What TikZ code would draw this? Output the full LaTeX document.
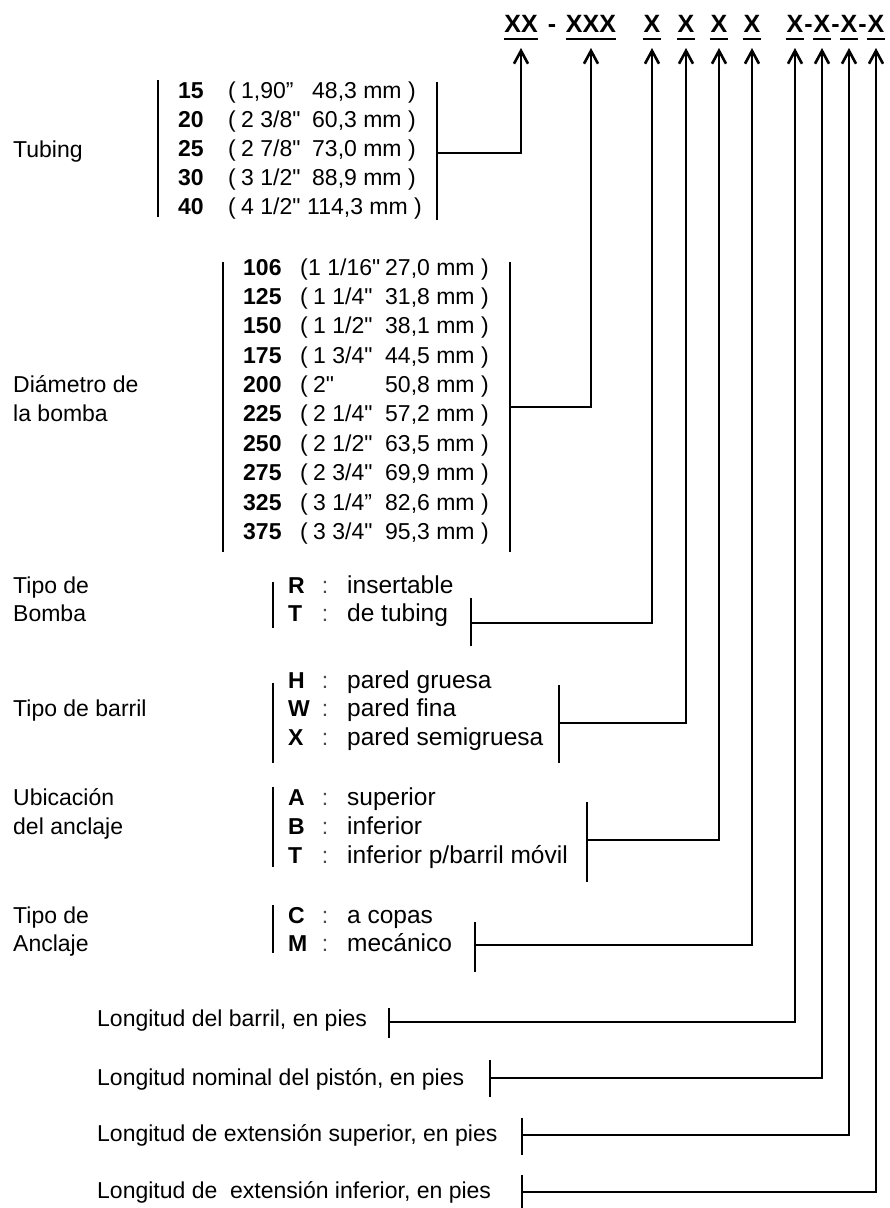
\documentclass[tikz,border=0pt]{standalone}
\usepackage{fontspec}
\setmainfont{Liberation Sans}
\newfontfamily\arialf{Liberation Sans}
\usetikzlibrary{arrows.meta}
\begin{document}
\begin{tikzpicture}[x=1pt,y=-1pt,
  txt/.style={inner sep=0pt, anchor=base west, font=\arialf\fontsize{23}{27}\selectfont},
  dsc/.style={inner sep=0pt, anchor=base west, font=\arialf\fontsize{24.5}{28}\selectfont},
  code/.style={inner sep=0pt, anchor=base west, font=\arialf\fontsize{23}{27}\selectfont\bfseries},
  colon/.style={inner sep=0pt, anchor=base, font=\arialf\fontsize{23}{27}\selectfont, text=black!70},
  hdr/.style={inner sep=0pt, anchor=base, font=\arialf\fontsize{25}{30}\selectfont\bfseries},
  bar/.style={line width=2.5pt},
  conn/.style={line width=2.6pt},
  arr/.style={conn, -{Straight Barb[length=13pt,width=14pt]}},
  ul/.style={line width=2.5pt}]
\useasboundingbox (0,0) rectangle (890,1208);

% ---------- header ----------
\node[hdr] (h1) at (521,32) {XX};
\node[hdr] (hd0) at (552,32) {-};
\node[hdr] (h2) at (591,32) {XXX};
\node[hdr] (h3) at (652,32) {X};
\node[hdr] (h4) at (686,32) {X};
\node[hdr] (h5) at (719,32) {X};
\node[hdr] (h6) at (752,32) {X};
\node[hdr] (h7) at (795,32) {X};
\node[hdr] (hd1) at (808.5,32) {-};
\node[hdr] (h8) at (822,32) {X};
\node[hdr] (hd2) at (835.5,32) {-};
\node[hdr] (h9) at (849,32) {X};
\node[hdr] (hd3) at (862.5,32) {-};
\node[hdr] (h10) at (876,32) {X};
\foreach \h in {h1,h2,h3,h4,h5,h6,h7,h8,h9,h10}{
  \draw[ul] ([yshift=-7pt]\h.base west) -- ([yshift=-7pt]\h.base east);
}
\coordinate (a1) at (521,48);
\coordinate (a2) at (591,48);
\coordinate (a3) at (652,48);
\coordinate (a4) at (686,48);
\coordinate (a5) at (719,48);
\coordinate (a6) at (752,48);
\coordinate (a7) at (795,48);
\coordinate (a8) at (822,48);
\coordinate (a9) at (849,48);
\coordinate (a10) at (876,48);

% ---------- Tubing ----------
\node[txt] (ltub) at (13,157) {Tubing};
\draw[bar] (158,80) -- (158,217);
\node[code] (t1c) at (178,98) {15};
\node[code] (t2c) at (178,127) {20};
\node[code] (t3c) at (178,156) {25};
\node[code] (t4c) at (178,185) {30};
\node[code] (t5c) at (178,214) {40};
\node[txt] (tp1) at (228,98) {(};
\node[txt] (tp2) at (228,127) {(};
\node[txt] (tp3) at (228,156) {(};
\node[txt] (tp4) at (228,185) {(};
\node[txt] (tp5) at (228,214) {(};
\node[txt] (t1i) at (241,98) {1,90”};
\node[txt] (t2i) at (241,127) {2 3/8"};
\node[txt] (t3i) at (241,156) {2 7/8"};
\node[txt] (t4i) at (241,185) {3 1/2"};
\node[txt] (t5i) at (241,214) {4 1/2"};
\node[txt] (t1m) at (312,98) {48,3 mm )};
\node[txt] (t2m) at (312,127) {60,3 mm )};
\node[txt] (t3m) at (312,156) {73,0 mm )};
\node[txt] (t4m) at (312,185) {88,9 mm )};
\node[txt] (t5m) at (307,214) {114,3 mm )};
\draw[bar] (437,82) -- (437,220);
\coordinate (r1) at (437,153);
\draw[arr] (r1) -| (a1);

% ---------- Diametro ----------
\node[txt] (ldia1) at (13,392) {Diámetro de};
\node[txt] (ldia2) at (13,421) {la bomba};
\draw[bar] (223,262) -- (223,552);
\node[code] (d1c) at (243,275) {106};
\node[code] (d2c) at (243,304) {125};
\node[code] (d3c) at (243,333) {150};
\node[code] (d4c) at (243,363) {175};
\node[code] (d5c) at (243,392) {200};
\node[code] (d6c) at (243,421) {225};
\node[code] (d7c) at (243,451) {250};
\node[code] (d8c) at (243,480) {275};
\node[code] (d9c) at (243,510) {325};
\node[code] (d10c) at (243,539) {375};
\node[txt] (d1p) at (300,275) {(};
\node[txt] (d2p) at (300,304) {(};
\node[txt] (d3p) at (300,333) {(};
\node[txt] (d4p) at (300,363) {(};
\node[txt] (d5p) at (300,392) {(};
\node[txt] (d6p) at (300,421) {(};
\node[txt] (d7p) at (300,451) {(};
\node[txt] (d8p) at (300,480) {(};
\node[txt] (d9p) at (300,510) {(};
\node[txt] (d10p) at (300,539) {(};
\node[txt] (d1i) at (308,275) {1 1/16"};
\node[txt] (d2i) at (313,304) {1 1/4"};
\node[txt] (d3i) at (313,333) {1 1/2"};
\node[txt] (d4i) at (313,363) {1 3/4"};
\node[txt] (d5i) at (313,392) {2"};
\node[txt] (d6i) at (313,421) {2 1/4"};
\node[txt] (d7i) at (313,451) {2 1/2"};
\node[txt] (d8i) at (313,480) {2 3/4"};
\node[txt] (d9i) at (313,510) {3 1/4”};
\node[txt] (d10i) at (313,539) {3 3/4"};
\node[txt] (d1m) at (385,275) {27,0 mm )};
\node[txt] (d2m) at (385,304) {31,8 mm )};
\node[txt] (d3m) at (385,333) {38,1 mm )};
\node[txt] (d4m) at (385,363) {44,5 mm )};
\node[txt] (d5m) at (385,392) {50,8 mm )};
\node[txt] (d6m) at (385,421) {57,2 mm )};
\node[txt] (d7m) at (385,451) {63,5 mm )};
\node[txt] (d8m) at (385,480) {69,9 mm )};
\node[txt] (d9m) at (385,510) {82,6 mm )};
\node[txt] (d10m) at (385,539) {95,3 mm )};
\draw[bar] (510,262) -- (510,552);
\coordinate (r2) at (510,407);
\draw[arr] (r2) -| (a2);

% ---------- Tipo de Bomba ----------
\node[txt] (lbo1) at (13,593) {Tipo de};
\node[txt] (lbo2) at (13,621) {Bomba};
\draw[bar] (273,582) -- (273,628);
\node[code] (bo1c) at (288,593) {R};
\node[colon] (bo1k) at (325,593) {:};
\node[dsc] (bo1d) at (347,593) {insertable};
\node[code] (bo2c) at (288,621) {T};
\node[colon] (bo2k) at (325,621) {:};
\node[dsc] (bo2d) at (347,621) {de tubing};
\draw[bar] (471,598) -- (471,646);
\coordinate (r3) at (471,623);
\draw[arr] (r3) -| (a3);

% ---------- Tipo de barril ----------
\node[txt] (lba) at (13,716) {Tipo de barril};
\draw[bar] (273,683) -- (273,763);
\node[code] (ba1c) at (288,688) {H};
\node[colon] (ba1k) at (325,688) {:};
\node[dsc] (ba1d) at (347,688) {pared gruesa};
\node[code] (ba2c) at (288,716) {W};
\node[colon] (ba2k) at (325,716) {:};
\node[dsc] (ba2d) at (347,716) {pared fina};
\node[code] (ba3c) at (288,745) {X};
\node[colon] (ba3k) at (325,745) {:};
\node[dsc] (ba3d) at (347,745) {pared semigruesa};
\draw[bar] (559,685) -- (559,763);
\coordinate (r4) at (559,723);
\draw[arr] (r4) -| (a4);

% ---------- Ubicacion del anclaje ----------
\node[txt] (lub1) at (13,805) {Ubicación};
\node[txt] (lub2) at (13,834) {del anclaje};
\draw[bar] (273,787) -- (273,867);
\node[code] (ub1c) at (288,805) {A};
\node[colon] (ub1k) at (325,805) {:};
\node[dsc] (ub1d) at (347,805) {superior};
\node[code] (ub2c) at (288,834) {B};
\node[colon] (ub2k) at (325,834) {:};
\node[dsc] (ub2d) at (347,834) {inferior};
\node[code] (ub3c) at (288,863) {T};
\node[colon] (ub3k) at (325,863) {:};
\node[dsc] (ub3d) at (347,863) {inferior p/barril móvil};
\draw[bar] (587,802) -- (587,882);
\coordinate (r5) at (587,840);
\draw[arr] (r5) -| (a5);

% ---------- Tipo de Anclaje ----------
\node[txt] (lan1) at (13,923) {Tipo de};
\node[txt] (lan2) at (13,951) {Anclaje};
\draw[bar] (273,905) -- (273,953);
\node[code] (an1c) at (288,923) {C};
\node[colon] (an1k) at (325,923) {:};
\node[dsc] (an1d) at (347,923) {a copas};
\node[code] (an2c) at (288,951) {M};
\node[colon] (an2k) at (325,951) {:};
\node[dsc] (an2d) at (347,951) {mecánico};
\draw[bar] (475,922) -- (475,972);
\coordinate (r6) at (475,945);
\draw[arr] (r6) -| (a6);

% ---------- Longitudes ----------
\node[txt] (lo1) at (97,1026) {Longitud del barril, en pies};
\draw[bar] (389,1008) -- (389,1038);
\coordinate (r7) at (389,1022);
\draw[arr] (r7) -| (a7);

\node[txt] (lo2) at (97,1085) {Longitud nominal del pistón, en pies};
\draw[bar] (490,1060) -- (490,1097);
\coordinate (r8) at (490,1078);
\draw[arr] (r8) -| (a8);

\node[txt] (lo3) at (97,1141) {Longitud de extensión superior, en pies};
\draw[bar] (522,1118) -- (522,1155);
\coordinate (r9) at (522,1135);
\draw[arr] (r9) -| (a9);

\node[txt] (lo4) at (97,1198) {Longitud de\ \ extensión inferior, en pies};
\draw[bar] (522,1175) -- (522,1212);
\coordinate (r10) at (522,1192);
\draw[arr] (r10) -| (a10);
\end{tikzpicture}
\end{document}
